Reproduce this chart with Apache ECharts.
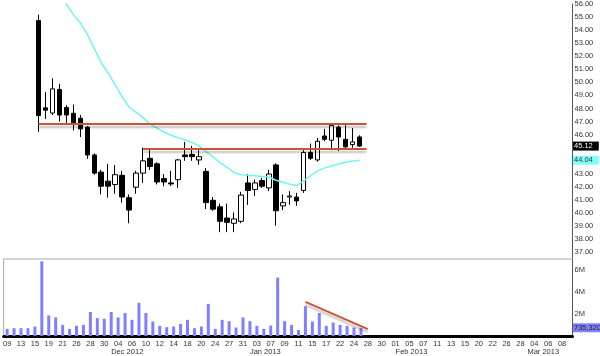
<!DOCTYPE html>
<html><head><meta charset="utf-8">
<script src="https://cdn.jsdelivr.net/npm/echarts@6/dist/echarts.min.js"></script>
<style>html,body{margin:0;padding:0;background:#fff}#c{width:600px;height:356px}</style>
</head><body><div id="c"></div>
<script>
const categories = [
 '2012-11-09','2012-11-12','2012-11-13','2012-11-14','2012-11-15','2012-11-16','2012-11-19','2012-11-20','2012-11-21','2012-11-23','2012-11-26','2012-11-27','2012-11-28','2012-11-29','2012-11-30',
 '2012-12-03','2012-12-04','2012-12-05','2012-12-06','2012-12-07','2012-12-10','2012-12-11','2012-12-12','2012-12-13','2012-12-14','2012-12-17','2012-12-18','2012-12-19','2012-12-20','2012-12-21','2012-12-24','2012-12-26','2012-12-27','2012-12-28','2012-12-31',
 '2013-01-02','2013-01-03','2013-01-04','2013-01-07','2013-01-08','2013-01-09','2013-01-10','2013-01-11','2013-01-14','2013-01-15','2013-01-16','2013-01-17','2013-01-18','2013-01-22','2013-01-23','2013-01-24','2013-01-25','2013-01-28','2013-01-29','2013-01-30','2013-01-31',
 '2013-02-01','2013-02-04','2013-02-05','2013-02-06','2013-02-07','2013-02-08','2013-02-11','2013-02-12','2013-02-13','2013-02-14','2013-02-15','2013-02-19','2013-02-20','2013-02-21','2013-02-22','2013-02-25','2013-02-26','2013-02-27','2013-02-28',
 '2013-03-01','2013-03-04','2013-03-05','2013-03-06','2013-03-07','2013-03-08','2013-03-11'
];
const monthLabels = {'2012-12-03':'Dec 2012','2013-01-02':'Jan 2013','2013-02-01':'Feb 2013','2013-03-01':'Mar 2013'};

// price candles from 2012-11-16 to 2013-01-25
const candleStart = '2012-11-16';
const opens  = [54.73,48.05,47.65,49.46,48.08,47.63,47.25,46.57,44.44,43.13,42.43,42.18,42.88,41.17,41.97,43.05,44.18,43.76,42.63,42.30,42.55,44.44,44.48,44.06,43.18,40.97,40.47,39.61,39.21,39.36,42.30,41.80,42.48,41.92,43.68,40.54,41.22,41.22,41.72,44.63,44.06,45.89,45.57,46.57,45.64,45.24,45.82];
const closes = [47.45,47.87,49.50,47.50,47.50,46.90,46.44,44.44,43.05,42.05,42.05,42.93,41.22,40.22,43.05,43.99,43.56,42.37,42.37,42.22,44.06,44.31,44.31,44.31,40.79,40.29,39.36,39.28,39.54,41.37,41.72,42.30,42.05,42.98,40.17,40.79,41.30,40.92,44.63,44.18,45.49,45.64,46.70,45.82,45.06,45.44,45.12];
const lows   = [46.19,47.20,47.50,47.00,46.90,46.32,45.82,44.14,42.93,41.42,41.17,41.47,40.79,39.21,41.47,42.30,43.30,42.18,42.05,42.05,41.92,43.99,43.99,43.68,40.29,40.17,38.53,38.53,38.53,39.21,40.62,41.30,41.92,41.67,39.03,40.22,40.62,40.54,41.54,44.06,43.93,45.49,44.81,44.74,44.94,44.99,45.06];
const highs  = [55.18,49.26,50.31,49.89,48.25,48.30,47.50,46.65,44.56,43.30,43.76,43.68,43.23,41.42,43.23,44.99,44.94,43.88,42.98,43.23,44.14,45.44,45.14,44.81,43.43,41.22,40.72,40.72,40.04,41.62,42.98,42.55,42.68,43.30,43.80,41.42,41.67,41.54,44.81,45.31,45.74,46.44,46.74,46.70,46.74,46.50,45.95];
const movingAvg = [59.9,58.9,57.9,57.0,56.0,55.2,54.55,53.7,52.6,51.5,50.7,49.8,48.9,48.1,47.7,47.3,46.8,46.5,46.2,45.95,45.75,45.6,45.4,45.15,44.7,44.3,43.85,43.5,43.1,42.93,42.88,42.84,42.8,42.75,42.5,42.35,42.2,42.1,42.45,42.85,43.2,43.45,43.6,43.75,43.88,43.98,44.04];

// volume (millions) from 2012-11-09 to 2013-01-25
const volumeStart = '2012-11-09';
const volumes = [0.65,0.71,0.71,0.71,0.86,6.79,1.87,1.69,1.01,0.65,0.92,1.01,2.18,1.63,1.57,
 2.18,1.69,2.09,1.47,3.01,2.09,1.32,0.92,0.80,0.86,1.10,1.47,0.71,0.86,2.92,0.65,1.47,1.35,0.77,1.69,
 1.35,0.92,0.65,0.95,5.31,1.35,1.01,0.55,2.70,1.32,2.09,0.92,1.23,1.01,0.92,0.77,0.73532];

const priceTicks = [37,38,39,40,41,42,43,44,45,46,47,48,49,50,51,52,53,54,55,56];
const volumeTicks = [2,4,6];

const resistanceLine = ['2012-11-16','2013-01-28',46.82];
const supportLine = ['2012-12-10','2013-01-28',44.89];
const volumeTrendDates = ['2013-01-14','2013-01-28'];
const volumeTrendValues = [3.1,0.62];

const cStart = categories.indexOf(candleStart);
const vStart = categories.indexOf(volumeStart);
const candleData = categories.map((d,i)=>{const k=i-cStart; return (k>=0&&k<opens.length)?[opens[k],closes[k],lows[k],highs[k]]:['-','-','-','-'];});
const maData = categories.map((d,i)=>{const k=i-cStart; return (k>=0&&k<movingAvg.length)?movingAvg[k]:'-';});
const volData = categories.map((d,i)=>{const k=i-vStart; return (k>=0&&k<volumes.length)?volumes[k]:'-';});
const lastClose = closes[closes.length-1];
const lastMA = movingAvg[movingAvg.length-1];
const lastVol = volumes[volumes.length-1];

const FONT = '"Liberation Sans", Arial, sans-serif';
const FS = 7.5;
const gridLeft = -1.5, gridRight = 27.5;
const red = '#cc5436';
const shadow = {shadowColor:'rgba(0,0,0,0.25)', shadowBlur:2, shadowOffsetY:3};
const priceLabel = (val, text, bg, fg) => ({
  yAxis: val,
  lineStyle:{color:'rgba(0,0,0,0)', width:1, shadowColor:'rgba(0,0,0,0)', shadowBlur:0, shadowOffsetY:0},
  label:{show:true, position:'end', distance:0.5, formatter:text, backgroundColor:bg, color:fg, padding:[1,6,0,1], fontSize:FS, fontFamily:FONT}
});

const chart = echarts.init(document.getElementById('c'), null, {renderer:'canvas'});
chart.setOption({
  animation:false,
  backgroundColor:'#fff',
  textStyle:{fontFamily:FONT},
  grid:[
    {left:gridLeft, right:gridRight, top:0, height:258},
    {left:gridLeft, right:gridRight, top:259, height:77, show:true, borderColor:'#aaa', borderWidth:1, backgroundColor:'transparent'}
  ],
  xAxis:[
    {type:'category', gridIndex:0, data:categories, show:false},
    {type:'category', gridIndex:1, data:categories,
     axisLine:{lineStyle:{color:'#000', width:3}}, axisTick:{show:false},
     axisLabel:{interval:1, margin:4, fontSize:FS, color:'#333', fontFamily:FONT, formatter:v=>v.slice(8)}},
    {type:'category', gridIndex:1, data:categories, position:'bottom', offset:8,
     axisLine:{show:false}, axisTick:{show:false},
     axisLabel:{interval:0, margin:4, fontSize:FS, color:'#333', fontFamily:FONT, align:'left', formatter:v=>monthLabels[v]||''}}
  ],
  yAxis:[
    {type:'value', gridIndex:0, position:'right', min:36.55, max:56, scale:true,
     splitLine:{show:false}, axisLine:{show:true, lineStyle:{color:'#555'}}, axisTick:{show:false},
     axisLabel:{customValues:priceTicks, formatter:v=>v.toFixed(2), fontSize:FS, color:'#333', margin:2, fontFamily:FONT}},
    {type:'value', gridIndex:1, position:'right', min:0, max:7,
     splitLine:{show:false}, axisLine:{show:true, lineStyle:{color:'#555'}}, axisTick:{show:false},
     axisLabel:{customValues:volumeTicks, formatter:v=>v+'M', fontSize:FS, color:'#333', margin:2, fontFamily:FONT}}
  ],
  series:[
    {type:'line', xAxisIndex:0, yAxisIndex:0, data:maData, symbol:'none', silent:true,
     lineStyle:{color:'#70f4f4', width:1.5}},
    {type:'candlestick', xAxisIndex:0, yAxisIndex:0, data:candleData, barWidth:5, clip:false, silent:true,
     itemStyle:{color:'#fff', color0:'#000', borderColor:'#000', borderColor0:'#000', borderWidth:1},
     markLine:{symbol:['none','none'], silent:true, animation:false,
       lineStyle:Object.assign({color:red, width:2, type:'solid'}, shadow),
       label:{show:false},
       emphasis:{disabled:true},
       data:[
         [{coord:[resistanceLine[0],resistanceLine[2]]},{coord:[resistanceLine[1],resistanceLine[2]]}],
         [{coord:[supportLine[0],supportLine[2]]},{coord:[supportLine[1],supportLine[2]]}],
         priceLabel(lastClose, lastClose.toFixed(2), '#000', '#fff'),
         priceLabel(lastMA, lastMA.toFixed(2), '#80ffff', '#333')
       ]}},
    {type:'bar', xAxisIndex:1, yAxisIndex:1, data:volData, barWidth:3, clip:false, silent:true,
     itemStyle:{color:'#8080ff'},
     markLine:{symbol:['none','none'], silent:true, animation:false,
       lineStyle:Object.assign({color:red, width:2, type:'solid'}, shadow),
       label:{show:false},
       emphasis:{disabled:true},
       data:[
         [{coord:[volumeTrendDates[0],volumeTrendValues[0]]},{coord:[volumeTrendDates[1],volumeTrendValues[1]]}],
         priceLabel(lastVol, Math.round(lastVol*1e6).toLocaleString('en-US'), '#8080ff', '#222')
       ]}}
  ]
});
</script></body></html>
